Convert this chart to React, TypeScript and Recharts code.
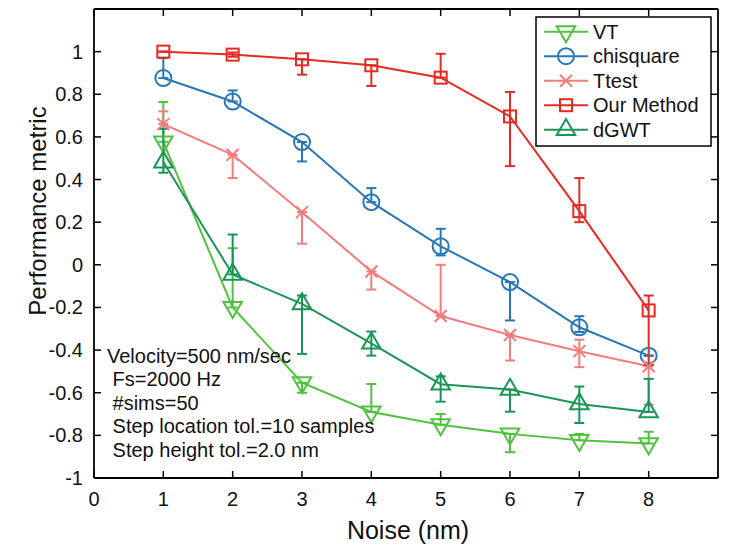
import React from 'react';
import { ComposedChart, Line, XAxis, YAxis, ErrorBar, Legend, Label } from 'recharts';

const noise = [1, 2, 3, 4, 5, 6, 7, 8];
const xTicks = [0, 1, 2, 3, 4, 5, 6, 7, 8];
const xTickLabels = ['0', '1', '2', '3', '4', '5', '6', '7', '8'];
const yTicks = [-1, -0.8, -0.6, -0.4, -0.2, 0, 0.2, 0.4, 0.6, 0.8, 1];
const yTickLabels = ['-1', '-0.8', '-0.6', '-0.4', '-0.2', '0', '0.2', '0.4', '0.6', '0.8', '1'];
const xDomain = [0, 9];
const yDomain = [-1, 1.2];

const vt = [0.577, -0.2, -0.553, -0.69, -0.75, -0.793, -0.823, -0.838];
const vtLow = [0, 0, 0.047, 0, 0, 0.086, 0, 0];
const vtHigh = [0.187, 0.278, 0, 0.131, 0.05, 0, 0.03, 0.055];

const chisquare = [0.876, 0.766, 0.576, 0.294, 0.087, -0.081, -0.293, -0.426];
const chiLow = [0, 0, 0.091, 0, 0.043, 0.18, 0.022, 0];
const chiHigh = [0.094, 0.052, 0, 0.066, 0.082, 0, 0.052, 0];

const ttest = [0.66, 0.516, 0.247, -0.031, -0.24, -0.329, -0.405, -0.476];
const tLow = [0, 0.109, 0.148, 0.085, 0, 0.12, 0.075, 0.18];
const tHigh = [0.06, 0, 0, 0, 0.24, 0, 0.054, 0];

const ourMethod = [1.0, 0.986, 0.964, 0.936, 0.878, 0.696, 0.252, -0.214];
const oLow = [0, 0.01, 0.072, 0.097, 0, 0.233, 0.052, 0.256];
const oHigh = [0, 0.01, 0, 0, 0.112, 0.115, 0.155, 0.07];

const dgwt = [0.482, -0.045, -0.183, -0.368, -0.56, -0.585, -0.653, -0.69];
const dLow = [0.05, 0, 0.235, 0.058, 0.082, 0.104, 0.089, 0];
const dHigh = [0.156, 0.187, 0.039, 0.055, 0.037, 0, 0.082, 0.155];

const annotationLines = [
  'Velocity=500 nm/sec',
  ' Fs=2000 Hz',
  ' #sims=50',
  ' Step location tol.=10 samples',
  ' Step height tol.=2.0 nm',
];

const FONT = '"Liberation Sans", Arial, Helvetica, sans-serif';

const MARGIN = { top: 9, right: 11, bottom: 0, left: 0 };
const CHART_W = 729;
const CHART_H = 555;
const Y_AXIS_W = 94;
const X_AXIS_H = 77;
const PLOT_X = MARGIN.left + Y_AXIS_W;
const PLOT_Y = MARGIN.top;
const PLOT_W = CHART_W - MARGIN.left - MARGIN.right - Y_AXIS_W;
const PLOT_H = CHART_H - MARGIN.top - MARGIN.bottom - X_AXIS_H;

type Marker = 'tdown' | 'circle' | 'x' | 'square' | 'tup';

const seriesDefs: { key: string; name: string; color: string; marker: Marker }[] = [
  { key: 'vt', name: 'VT', color: '#52c141', marker: 'tdown' },
  { key: 'chi', name: 'chisquare', color: '#2878b8', marker: 'circle' },
  { key: 'tt', name: 'Ttest', color: '#f47c7c', marker: 'x' },
  { key: 'our', name: 'Our Method', color: '#e42a22', marker: 'square' },
  { key: 'dg', name: 'dGWT', color: '#199656', marker: 'tup' },
];

const data = noise.map((x, i) => ({
  x,
  vt: vt[i],
  vtErr: [vtLow[i], vtHigh[i]],
  chi: chisquare[i],
  chiErr: [chiLow[i], chiHigh[i]],
  tt: ttest[i],
  ttErr: [tLow[i], tHigh[i]],
  our: ourMethod[i],
  ourErr: [oLow[i], oHigh[i]],
  dg: dgwt[i],
  dgErr: [dLow[i], dHigh[i]],
}));

function drawMarker(type: Marker, cx: number, cy: number, color: string, key?: any) {
  const sw = 2;
  switch (type) {
    case 'tdown': {
      const s = 18.5, h = 16;
      const pts = `${cx - s / 2},${cy - h / 3} ${cx + s / 2},${cy - h / 3} ${cx},${cy + (2 * h) / 3}`;
      return <polygon key={key} points={pts} fill="none" stroke={color} strokeWidth={sw} />;
    }
    case 'tup': {
      const s = 18.5, h = 16;
      const pts = `${cx - s / 2},${cy + h / 3} ${cx + s / 2},${cy + h / 3} ${cx},${cy - (2 * h) / 3}`;
      return <polygon key={key} points={pts} fill="none" stroke={color} strokeWidth={sw} />;
    }
    case 'circle':
      return <circle key={key} cx={cx} cy={cy} r={8} fill="none" stroke={color} strokeWidth={sw} />;
    case 'square':
      return <rect key={key} x={cx - 6} y={cy - 6} width={12} height={12} fill="none" stroke={color} strokeWidth={sw} />;
    case 'x':
      return (
        <g key={key}>
          <line x1={cx - 6} y1={cy - 6} x2={cx + 6} y2={cy + 6} stroke={color} strokeWidth={sw} />
          <line x1={cx - 6} y1={cy + 6} x2={cx + 6} y2={cy - 6} stroke={color} strokeWidth={sw} />
        </g>
      );
  }
  return null;
}

const BottomTick = (props: any) => {
  const { x, y, index } = props;
  return (
    <g>
      <line x1={x} x2={x} y1={y} y2={y - 7} stroke="#000" strokeWidth={1.5} />
      <text x={x} y={y + 28} textAnchor="middle" fontSize={20} fill="#111" fontFamily={FONT}>
        {xTickLabels[index]}
      </text>
    </g>
  );
};
const LeftTick = (props: any) => {
  const { x, y, index } = props;
  return (
    <g>
      <line x1={x} x2={x + 7} y1={y} y2={y} stroke="#000" strokeWidth={1.5} />
      <text x={x - 11} y={y + 7} textAnchor="end" fontSize={20} fill="#111" fontFamily={FONT}>
        {yTickLabels[index]}
      </text>
    </g>
  );
};

// mirrored box edges (top / right) with inward ticks, same linear mapping as the axes
const xPix = (v: number) => PLOT_X + ((v - xDomain[0]) / (xDomain[1] - xDomain[0])) * PLOT_W;
const yPix = (v: number) => PLOT_Y + PLOT_H - ((v - yDomain[0]) / (yDomain[1] - yDomain[0])) * PLOT_H;

const LegendBox = () => (
  <svg width={177} height={131} style={{ display: 'block' }}>
    <rect x={1} y={1} width={175} height={129} fill="#fff" stroke="#000" strokeWidth={1.5} />
    {seriesDefs.map((s, i) => {
      const cy = 15.7 + i * 24.5;
      return (
        <g key={s.key}>
          <line x1={9} x2={53} y1={cy} y2={cy} stroke={s.color} strokeWidth={2} />
          {drawMarker(s.marker, 31, cy, s.color)}
          <text x={58} y={cy + 7} fontSize={20} fill="#111" fontFamily={FONT}>
            {s.name}
          </text>
        </g>
      );
    })}
  </svg>
);

export default function App() {
  return (
    <div style={{ position: 'absolute', left: 0, top: 0, width: CHART_W, height: CHART_H, background: '#fff', fontFamily: FONT }}>
      <ComposedChart width={CHART_W} height={CHART_H} data={data} margin={MARGIN}>
        <XAxis
          xAxisId="b"
          type="number"
          dataKey="x"
          domain={xDomain}
          allowDataOverflow
          ticks={xTicks}
          interval={0}
          height={X_AXIS_H}
          tickSize={0}
          tickMargin={0}
          tickLine={false}
          axisLine={{ stroke: '#000', strokeWidth: 1.8 }}
          tick={<BottomTick />}
        >
          <Label
            content={(p: any) => {
              const vb = p.viewBox;
              return (
                <text x={vb.x + vb.width / 2 + 2} y={vb.y + 61} textAnchor="middle" fontSize={25} fill="#111" fontFamily={FONT}>
                  Noise (nm)
                </text>
              );
            }}
          />
        </XAxis>
        <YAxis
          yAxisId="l"
          type="number"
          domain={yDomain}
          allowDataOverflow
          ticks={yTicks}
          interval={0}
          width={Y_AXIS_W}
          tickSize={0}
          tickMargin={0}
          tickLine={false}
          axisLine={{ stroke: '#000', strokeWidth: 1.8 }}
          tick={<LeftTick />}
        >
          <Label
            content={() => (
              <text
                x={37}
                y={211}
                transform="rotate(-90 37 211)"
                textAnchor="middle"
                dominantBaseline="central"
                fontSize={24}
                fill="#111"
                fontFamily={FONT}
              >
                Performance metric
              </text>
            )}
          />
        </YAxis>
        <Legend
          layout="horizontal"
          verticalAlign="middle"
          align="center"
          wrapperStyle={{ position: 'absolute', left: 535, top: 16, width: 177, height: 131 }}
          content={() => <LegendBox />}
        />
        {seriesDefs.map((s) => (
          <Line
            key={s.key}
            xAxisId="b"
            yAxisId="l"
            type="linear"
            dataKey={s.key}
            name={s.name}
            stroke={s.color}
            strokeWidth={2}
            isAnimationActive={false}
            activeDot={false}
            dot={(p: any) => drawMarker(s.marker, p.cx, p.cy, s.color, `${s.key}-${p.index}`)}
          >
            <ErrorBar
              dataKey={`${s.key}Err`}
              direction="y"
              width={5}
              stroke={s.color}
              strokeWidth={2}
              isAnimationActive={false}
            />
          </Line>
        ))}
      </ComposedChart>
      <svg width={CHART_W} height={CHART_H} style={{ position: 'absolute', left: 0, top: 0, pointerEvents: 'none' }}>
        <line x1={PLOT_X} x2={PLOT_X + PLOT_W} y1={PLOT_Y} y2={PLOT_Y} stroke="#000" strokeWidth={1.8} />
        <line x1={PLOT_X + PLOT_W} x2={PLOT_X + PLOT_W} y1={PLOT_Y} y2={PLOT_Y + PLOT_H} stroke="#000" strokeWidth={1.8} />
        {xTicks.map((v) => (
          <line key={`tx${v}`} x1={xPix(v)} x2={xPix(v)} y1={PLOT_Y} y2={PLOT_Y + 7} stroke="#000" strokeWidth={1.5} />
        ))}
        {yTicks.map((v) => (
          <line key={`ty${v}`} x1={PLOT_X + PLOT_W} x2={PLOT_X + PLOT_W - 7} y1={yPix(v)} y2={yPix(v)} stroke="#000" strokeWidth={1.5} />
        ))}
        {annotationLines.map((t, i) => (
          <text
            key={i}
            x={107}
            y={362.5 + i * 23.6}
            fontSize={20}
            fill="#111"
            fontFamily={FONT}
            style={{ whiteSpace: 'pre' }}
          >
            {t}
          </text>
        ))}
      </svg>
    </div>
  );
}
